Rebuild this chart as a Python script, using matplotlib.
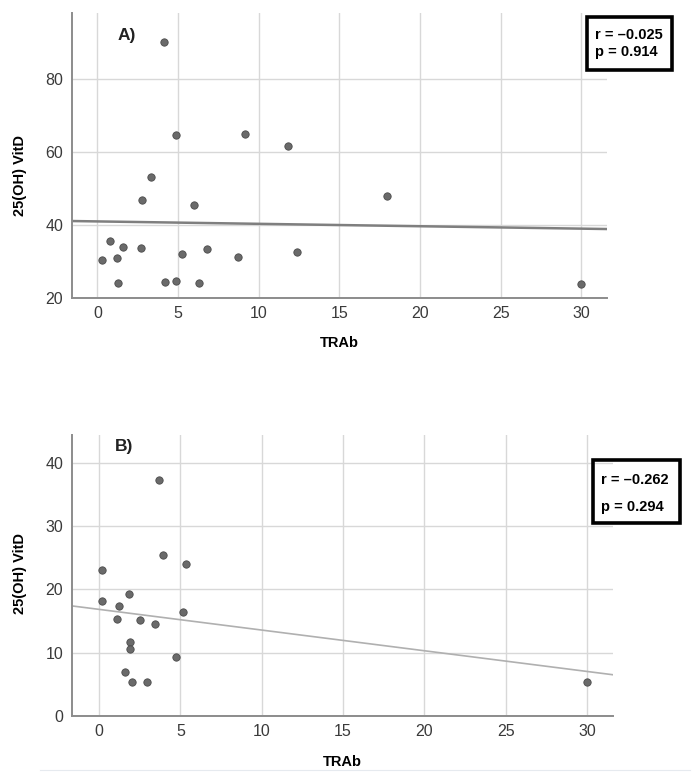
import matplotlib
matplotlib.use("Agg")
import matplotlib.pyplot as plt
from matplotlib.patches import Rectangle
from matplotlib.lines import Line2D

plt.rcParams['font.family'] = ['Liberation Sans', 'DejaVu Sans']

# panel A data (TRAb vs 25(OH) VitD)
trab_a = [4.1, 4.86, 9.17, 11.84, 3.29, 2.73, 5.98, 17.97, 0.76, 1.57, 2.67,
          6.79, 1.2, 0.25, 5.24, 8.73, 12.38, 1.26, 4.2, 4.86, 6.31, 29.96]
vitd_a = [90.1, 64.6, 64.8, 61.5, 53.0, 46.8, 45.4, 47.9, 35.5, 34.0, 33.5,
          33.4, 31.0, 30.2, 32.1, 31.1, 32.6, 24.0, 24.3, 24.5, 23.9, 23.7]
fit_a = (40.9, -0.066)   # intercept, slope
stats_a = ["r = \u20130.025", "p = 0.914"]

# panel B data
trab_b = [3.69, 3.94, 5.33, 0.18, 1.82, 0.16, 1.21, 5.17, 1.13, 2.52, 3.46,
          1.93, 1.89, 4.71, 1.58, 2.03, 2.95, 30.0]
vitd_b = [37.3, 25.4, 24.0, 23.0, 19.2, 18.1, 17.4, 16.5, 15.4, 15.1, 14.6,
          11.7, 10.6, 9.3, 7.0, 5.4, 5.3, 5.3]
fit_b = (16.85, -0.327)
stats_b = ["r = \u20130.262", "p = 0.294"]

xticks = [0, 5, 10, 15, 20, 25, 30]
yticks_a = [20, 40, 60, 80]
yticks_b = [0, 10, 20, 30, 40]

W, H = 696, 781
fig = plt.figure(figsize=(W / 100, H / 100), dpi=100)


def fx(px):
    return px / W


def fy(py):
    return 1 - py / H


def panel(rect, x, y, fit, xlim, ylim, yticks, line_style, tag, tag_xy):
    ax = fig.add_axes(rect)
    ax.set_xlim(xlim)
    ax.set_ylim(ylim)
    ax.set_xticks(xticks)
    ax.set_yticks(yticks)
    ax.grid(True, color='#d8d8d8', lw=1)
    ax.set_axisbelow(True)
    for s in ['top', 'right']:
        ax.spines[s].set_visible(False)
    for s in ['left', 'bottom']:
        ax.spines[s].set_color('#8c8c8c')
        ax.spines[s].set_linewidth(1.4)
    ax.tick_params(length=0, labelsize=11.5, labelcolor='#3a3a3a', pad=6)
    ax.scatter(x, y, s=28, color='#6a6a6a', edgecolor='#4a4a4a', lw=0.6, zorder=3)
    x0, x1 = xlim
    ax.plot([x0, x1], [fit[0] + fit[1] * x0, fit[0] + fit[1] * x1], **line_style, zorder=2)
    ax.text(tag_xy[0], tag_xy[1], tag, transform=ax.transAxes, fontsize=12.5,
            fontweight='bold', color='#222222', va='center', ha='left')
    return ax


axA = panel([fx(71.7), fy(297.7), fx(607) - fx(71.7), fy(13) - fy(297.7)],
            trab_a, vitd_a, fit_a, (-1.6, 31.6), (20, 98), yticks_a,
            dict(color='#7f7f7f', lw=1.8), 'A)', (0.085, 0.92))
axB = panel([fx(71.7), fy(716) - 0, fx(613) - fx(71.7), fy(435) - fy(716)],
            trab_b, vitd_b, fit_b, (-1.68, 31.6), (0, 44.4), yticks_b,
            dict(color='#b0b0b0', lw=1.2), 'B)', (0.08, 0.96))

# axis titles
for yl, xl in [(175, 343), (574, 762)]:
    fig.text(fx(20), fy(yl), '25(OH) VitD', rotation=90, fontsize=10.5,
             fontweight='bold', ha='center', va='center')
fig.text(fx(339), fy(343), 'TRAb', fontsize=10.5, fontweight='bold', ha='center', va='center')
fig.text(fx(342), fy(762), 'TRAb', fontsize=10.5, fontweight='bold', ha='center', va='center')

# stats boxes
for (l, t, r, b), lines, ys in [((586.7, 16.7, 671.7, 70), stats_a, (35, 51.7)),
                                ((592.7, 460, 680, 522.7), stats_b, (480, 506.7))]:
    fig.add_artist(Rectangle((fx(l), fy(b)), fx(r) - fx(l), fy(t) - fy(b),
                             transform=fig.transFigure, fill=False, ec='black', lw=2.6))
    for txt, yy in zip(lines, ys):
        fig.text(fx(l + 8), fy(yy), txt, fontsize=10.5, fontweight='bold',
                 ha='left', va='center')

fig.add_artist(Line2D([fx(40), fx(690)], [fy(770), fy(770)], transform=fig.transFigure,
                      color='#e6eaef', lw=0.8))

fig.savefig('out.png', dpi=100)
